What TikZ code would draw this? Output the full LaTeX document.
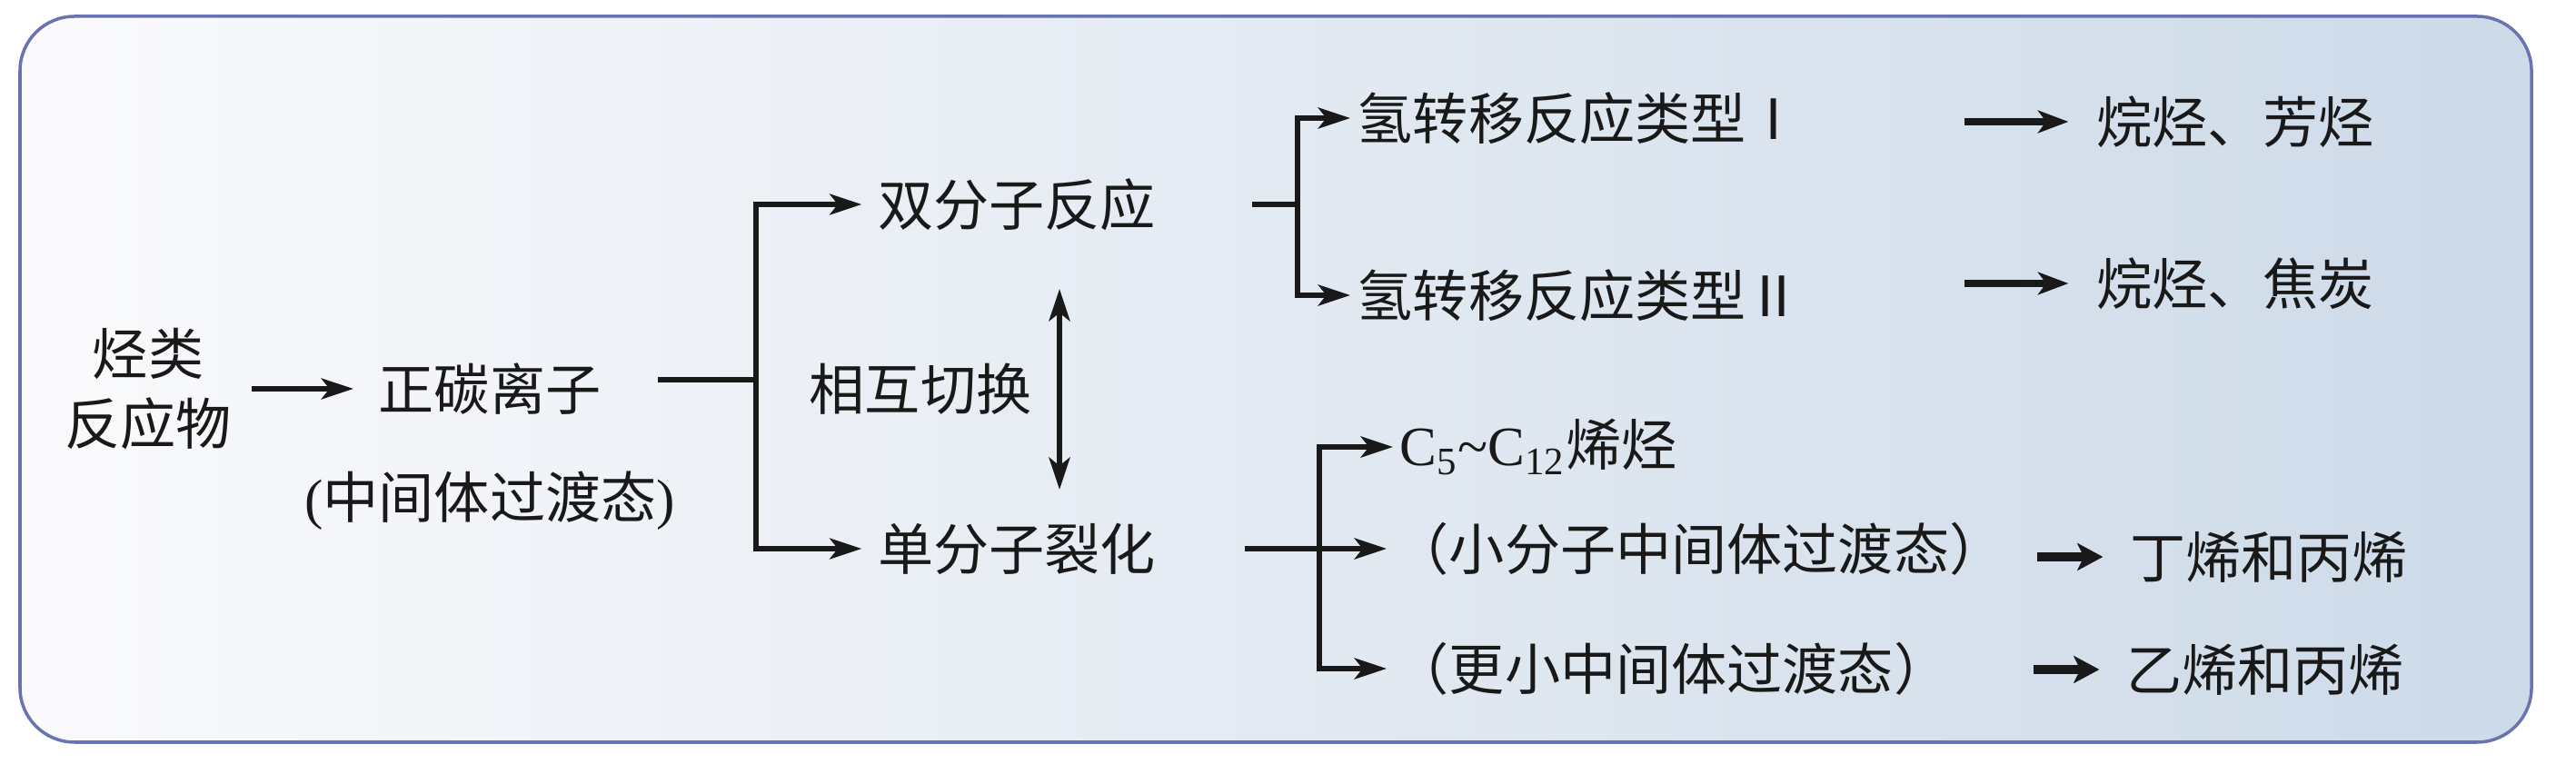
\documentclass[tikz,border=0pt]{standalone}
\usepackage{fontspec}
\newfontfamily\cjk{Noto Sans CJK SC}
\newfontfamily\latinfont{Liberation Serif}
\usepackage{xcolor}
\usetikzlibrary{arrows.meta, positioning, calc}

\definecolor{ink}{RGB}{25,25,25}
\definecolor{panelL}{RGB}{250,250,252}
\definecolor{panelR}{RGB}{205,218,232}
\definecolor{panelEdge}{RGB}{105,115,178}

\begin{document}
\begin{tikzpicture}[
  txt/.style={font=\cjk\fontsize{17.4}{22}\selectfont, text=ink,
              inner sep=2pt, align=center},
  link/.style={line width=1.7pt, draw=ink},
  arr/.style={link, -{Stealth[length=10pt, width=6.5pt, inset=2.5pt]}},
  midarr/.style={-{Stealth[length=9.5pt, width=7pt, inset=2.5pt]}, line width=2.2pt, draw=ink},
  fatarr/.style={-{Stealth[length=8pt, width=8.5pt, inset=2pt]}, line width=3pt, draw=ink},
  swaparr/.style={{Stealth[length=10pt, width=6.5pt, inset=2.5pt]}-{Stealth[length=10pt, width=6.5pt, inset=2.5pt]},
                  line width=1.8pt, draw=ink},
]
% Panel
\useasboundingbox (0,0) rectangle (28.35,8.4);
\shadedraw[left color=panelL, right color=panelR, draw=panelEdge,
           line width=1pt, rounded corners=0.6cm] (0.22,0.23) rectangle (27.86,8.22);

% Main chain
\node[txt] (feed) at (1.63,4.12) {烃类\\反应物};
\node[txt] (carb) at (5.39,4.12) {正碳离子};
\node[txt] (carbsub) at (5.39,2.89) {{\latinfont(}中间体过渡态{\latinfont)}};
\node[txt] (bi) at (11.19,6.15) {双分子反应};
\node[txt] (uni) at (11.19,2.36) {单分子裂化};
\node[txt] (swap) at (10.13,4.12) {相互切换};
\coordinate (swapT) at (11.66,5.22);
\coordinate (swapB) at (11.66,3.01);

\draw[arr] ([xshift=0.15cm]feed.east |- carb) -- ([xshift=-0.2cm]carb.west);
\coordinate (j1) at (8.32,4.22);
\draw[link] ([xshift=0.55cm]carb.east |- j1) -- (j1);
\draw[arr] (j1) |- ([xshift=-0.1cm]bi.west);
\draw[arr] (j1) |- ([xshift=-0.1cm]uni.west);
\draw[swaparr] (swapT) -- (swapB);

% Bimolecular branch
\node[txt, anchor=west] (ht1) at (14.86,7.10) {氢转移反应类型Ⅰ};
\node[txt, anchor=west] (ht2) at (14.86,5.15) {氢转移反应类型Ⅱ};
\node[txt] (p1) at (24.6,7.06) {烷烃、芳烃};
\node[txt] (p2) at (24.6,5.28) {烷烃、焦炭};

\coordinate (j2) at (14.28,6.15);
\draw[link] ([xshift=0.98cm]bi.east) -- (j2);
\draw[arr] (j2) |- (ht1.west);
\draw[arr] (j2) |- (ht2.west);
\draw[midarr] ([xshift=-1.37cm]p1.west) -- ([xshift=-0.23cm]p1.west);
\draw[midarr] ([xshift=-1.37cm]p2.west) -- ([xshift=-0.23cm]p2.west);

% Cracking branch
\node[txt, anchor=west] (c5) at (15.33,3.48)
  {{\latinfont C\textsubscript{5}\textasciitilde C\textsubscript{12}}烯烃};
\node[txt, anchor=west] (small) at (15.26,2.36) {（小分子中间体过渡态）};
\node[txt, anchor=west] (smaller) at (15.26,1.04) {（更小中间体过渡态）};
\node[txt] (but) at (24.97,2.27) {丁烯和丙烯};
\node[txt] (eth) at (24.93,1.03) {乙烯和丙烯};

\coordinate (j3) at (14.52,2.36);
\draw[arr] ([xshift=0.9cm]uni.east) -- (small.west);
\draw[arr] (j3) |- (c5.west);
\draw[arr] (j3) |- (smaller.west);
\draw[fatarr] ([xshift=-0.94cm]but.west) -- ([xshift=-0.22cm]but.west);
\draw[fatarr] ([xshift=-0.94cm]eth.west) -- ([xshift=-0.22cm]eth.west);
\end{tikzpicture}
\end{document}
